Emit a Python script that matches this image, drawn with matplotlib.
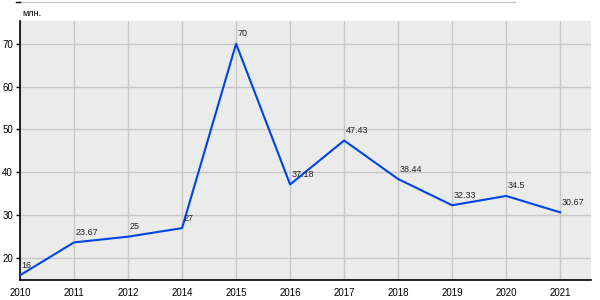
import matplotlib.pyplot as plt
from matplotlib.lines import Line2D

years = ["2010", "2011", "2012", "2014", "2015", "2016", "2017", "2018", "2019", "2020", "2021"]
values = [16, 23.67, 25, 27, 70, 37.18, 47.43, 38.44, 32.33, 34.5, 30.67]
labels = ["16", "23.67", "25", "27", "70", "37.18", "47.43", "38.44", "32.33", "34.5", "30.67"]

plt.rcParams["font.family"] = ["Liberation Sans", "DejaVu Sans"]

fig = plt.figure(figsize=(6, 3), dpi=100)
ax = fig.add_axes([20 / 600, 1 - 280 / 300, 571 / 600, 259 / 300])
ax.set_facecolor("#ebebeb")

x = list(range(len(years)))
ax.plot(x, values, color="#0044e6", linewidth=1.5, zorder=3)
for xi, v, lab in zip(x, values, labels):
    ax.annotate(lab, (xi, v), xytext=(1, 4), textcoords="offset points",
                fontsize=6.5, ha="left", va="bottom", color="#222222", zorder=4)

ax.set_xlim(0, 10.57)
ax.set_ylim(14.9, 75.3)
ax.set_xticks(x)
ax.set_xticklabels(years)
ax.set_yticks([20, 30, 40, 50, 60, 70])
ax.tick_params(axis="x", length=0, pad=6, labelsize=7)
ax.tick_params(axis="y", length=3, width=1, pad=2, labelsize=7)
ax.grid(True, color="#c8c8c8", linewidth=1)
ax.set_axisbelow(True)
for s in ["top", "right"]:
    ax.spines[s].set_visible(False)
ax.spines["left"].set_linewidth(1.2)
ax.spines["bottom"].set_linewidth(1.2)

# cut-off gridline of the chart above
fig.add_artist(Line2D([20 / 600, 515 / 600], [1 - 1.5 / 300] * 2, color="#c8c8c8", linewidth=1))
fig.add_artist(Line2D([16 / 600, 20 / 600], [1 - 1.5 / 300] * 2, color="black", linewidth=1))

fig.text(22 / 600, 1 - 14 / 300, "млн.", fontsize=6.5, va="center", ha="left")

fig.savefig("out.png", dpi=100)
